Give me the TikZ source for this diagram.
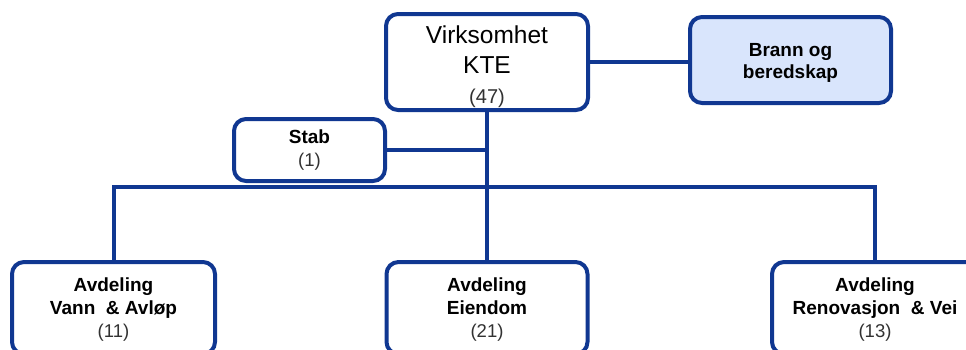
\documentclass[tikz,border=0pt]{standalone}
\usepackage{fontspec}
\setmainfont{Liberation Sans}
\definecolor{navy}{RGB}{16,55,145}
\definecolor{paleblue}{RGB}{217,229,252}
\definecolor{numgray}{RGB}{50,50,50}
\tikzset{
  orgbox/.style={draw=navy, line width=4pt, rounded corners=12pt, fill=white, inner sep=0pt},
  boxtext/.style={align=center, inner sep=0pt, text=black, font=\fontsize{19}{23}\selectfont},
  link/.style={draw=navy, line width=4pt},
}
\newcommand{\bnum}[1]{{\fontsize{18.5}{23}\selectfont\color{numgray}#1}}
\begin{document}
\begin{tikzpicture}[x=1pt,y=-1pt]
\useasboundingbox (0,0) rectangle (966,349);
\clip (0,0) rectangle (966,349);
\node[orgbox, minimum width=202pt, minimum height=96pt] (virk) at (487,62) {};
\node[boxtext, font=\fontsize{24.5}{30}\selectfont] (virkt) at (487,67)
  {Virksomhet\\KTE\\{\fontsize{20}{26}\selectfont\color{numgray}(47)}};
\node[orgbox, fill=paleblue, minimum width=201pt, minimum height=86pt] (brann) at (790.5,60) {};
\node[boxtext, font=\bfseries\fontsize{19}{22}\selectfont] (brannt) at (790.5,63) {Brann og\\beredskap};
\node[orgbox, minimum width=151pt, minimum height=62pt] (stab) at (309.5,150) {};
\node[boxtext, font=\fontsize{19}{23}\selectfont] (stabt) at (309.5,150) {\textbf{Stab}\\\bnum{(1)}};
\node[orgbox, minimum width=203pt, minimum height=92pt] (vann) at (113.5,308) {};
\node[boxtext] (vannt) at (113.5,310) {\textbf{Avdeling}\\\textbf{Vann \ \& Avløp}\\\bnum{(11)}};
\node[orgbox, minimum width=201pt, minimum height=92pt] (eiend) at (487,308) {};
\node[boxtext] (eiendt) at (487,310) {\textbf{Avdeling}\\\textbf{Eiendom}\\\bnum{(21)}};
\node[orgbox, minimum width=206pt, minimum height=92pt] (renov) at (875,308) {};
\node[boxtext] (renovt) at (875,310) {\textbf{Avdeling}\\\textbf{Renovasjon \ \& Vei}\\\bnum{(13)}};
\coordinate (bus) at (487,187);
\draw[link] (virk.south) -- (eiend.north);
\draw[link] (vann.north) |- (bus) -| (renov.north);
\draw[link] (stab.east) -- (stab.east -| virk.south);
\draw[link] (virk.east |- 0,62) -- (brann.west |- 0,62);
\end{tikzpicture}
\end{document}
